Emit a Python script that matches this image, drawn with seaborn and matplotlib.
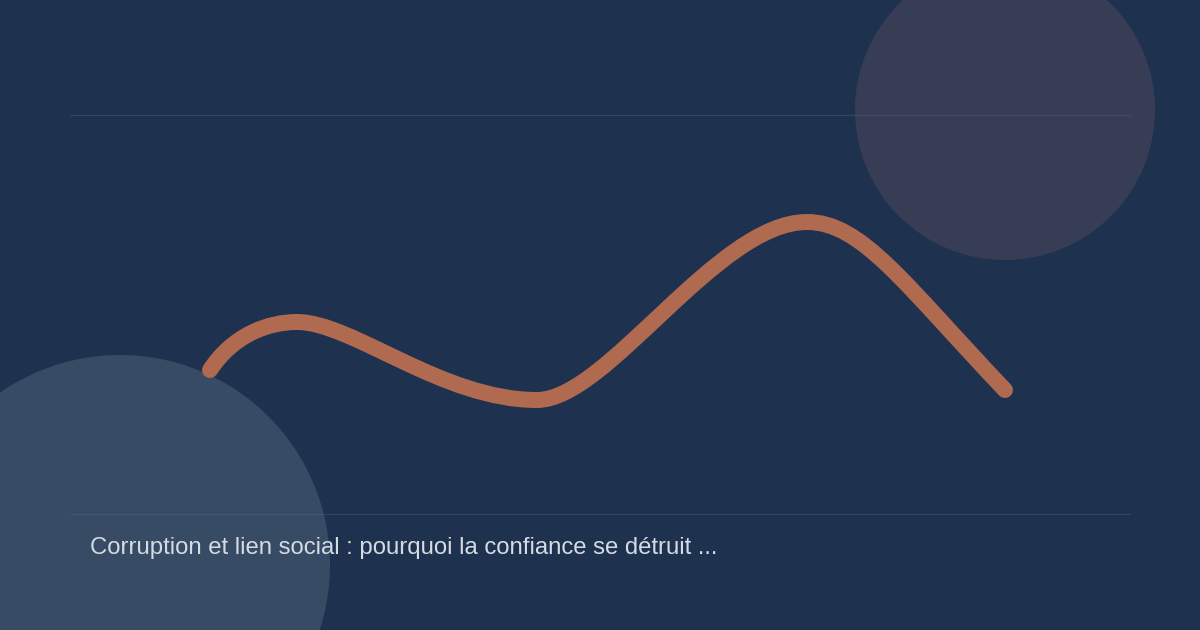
import matplotlib
matplotlib.use("Agg")
import matplotlib.pyplot as plt
from matplotlib.path import Path
from matplotlib.patches import PathPatch, Circle
import seaborn as sns

# Curve: anchor points (x, y in pixel units of the 1200x630 canvas) and bezier handles
curve_x = [210, 233, 268, 297, 352, 442, 537, 607, 717, 807, 862, 905, 1005]
curve_y = [370, 335, 322, 322, 322, 400, 400, 400, 222, 222, 222, 285, 390]

# Decorative circles
circle_x = [1005, 120]
circle_y = [110, 565]
circle_r = [150, 210]
circle_colors = ["#373d55", "#374b65"]

# Faint horizontal rules
rule_y = [115, 514]
rule_x0, rule_x1 = 70, 1130

title = "Corruption et lien social : pourquoi la confiance se détruit ..."

bg = "#1e3250"
sns.set_theme(style="white")
plt.rcParams["font.family"] = ["Liberation Sans", "DejaVu Sans"]

fig = plt.figure(figsize=(12, 6.3), dpi=100, facecolor=bg)
ax = fig.add_axes([0, 0, 1, 1])
ax.set_facecolor(bg)
ax.set_xlim(0, 1200)
ax.set_ylim(630, 0)
ax.axis("off")

for cx, cy, r, c in zip(circle_x, circle_y, circle_r, circle_colors):
    ax.add_patch(Circle((cx, cy), r, facecolor=c, edgecolor="none", zorder=1))

for y in rule_y:
    ax.plot([rule_x0, rule_x1], [y, y], color="#5a6b85", lw=0.8, alpha=0.35, zorder=2)

codes = [Path.MOVETO] + [Path.CURVE4] * (len(curve_x) - 1)
path = Path(list(zip(curve_x, curve_y)), codes)
ax.add_patch(PathPatch(path, facecolor="none", edgecolor="#b06a50", lw=11.5,
                       capstyle="round", joinstyle="round", zorder=3))

ax.text(90, 548, title, color="#d5dbe3", fontsize=17.2, va="center", ha="left", zorder=4)

fig.savefig("out.png", dpi=100, facecolor=bg)
